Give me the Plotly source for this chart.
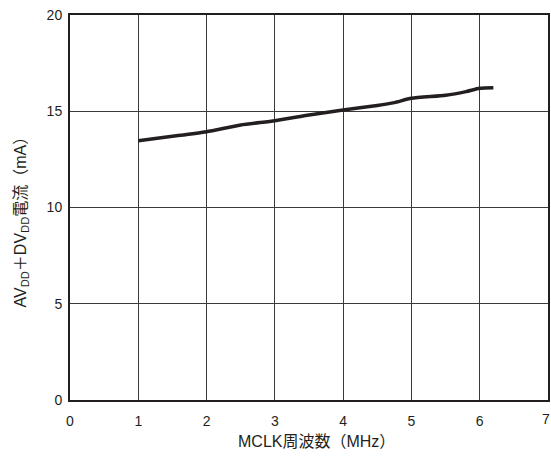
import plotly.graph_objects as go

mclk_mhz = [1.0, 1.5, 2.0, 2.5, 3.0, 3.5, 4.0, 4.5, 4.75, 5.0, 5.5, 5.8, 6.0, 6.2]
current_ma = [13.47, 13.70, 13.94, 14.29, 14.51, 14.80, 15.06, 15.30, 15.45, 15.67, 15.83, 16.02, 16.19, 16.22]
x_ticks = [0, 1, 2, 3, 4, 5, 6, 7]
y_ticks = [0, 5, 10, 15, 20]
x_title = "MCLK周波数（MHz）"
y_title = "AV<sub>DD</sub>＋DV<sub>DD</sub>電流（mA）"

font_family = "Liberation Sans, Arial, Noto Sans CJK JP, sans-serif"
ink = "#231f20"

fig = go.Figure()
fig.add_trace(go.Scatter(
    x=mclk_mhz, y=current_ma, mode="lines",
    line=dict(color=ink, width=3.5, shape="spline", smoothing=0.6),
    showlegend=False, hoverinfo="skip",
))

axis_common = dict(
    showline=True, linecolor=ink, linewidth=2, mirror=True,
    showgrid=True, gridcolor="#3a3a3a", gridwidth=1,
    zeroline=False, ticks="", tickfont=dict(size=14, color=ink, family=font_family),
)

# last x tick label sits on the page edge; draw it as an annotation so it is not dropped
fig.add_annotation(x=x_ticks[-1], y=0, xref="x", yref="y", text=str(x_ticks[-1]),
                   showarrow=False, yanchor="top", xanchor="right", yshift=-9, xshift=4,
                   font=dict(size=14, color=ink, family=font_family))
fig.add_annotation(x=0.5, y=0, xref="paper", yref="paper", text=x_title,
                   showarrow=False, yanchor="middle", xanchor="center",
                   xshift=7, yshift=-41, font=dict(size=16, color=ink, family=font_family))
fig.add_annotation(x=0, y=0.5, xref="paper", yref="paper", text=y_title, textangle=-90,
                   showarrow=False, yanchor="middle", xanchor="center",
                   xshift=-49, yshift=-11, font=dict(size=16, color=ink, family=font_family))

fig.update_layout(
    width=551, height=459,
    margin=dict(l=70, r=1, t=15, b=59),
    paper_bgcolor="white", plot_bgcolor="white",
    font=dict(family=font_family, color=ink),
    xaxis=dict(range=[0, 7], tickvals=x_ticks[:-1], ticklabelstandoff=7, **axis_common),
    yaxis=dict(range=[0, 20], tickvals=y_ticks, ticklabelstandoff=3, **axis_common),
)

fig.write_html("out.html")
